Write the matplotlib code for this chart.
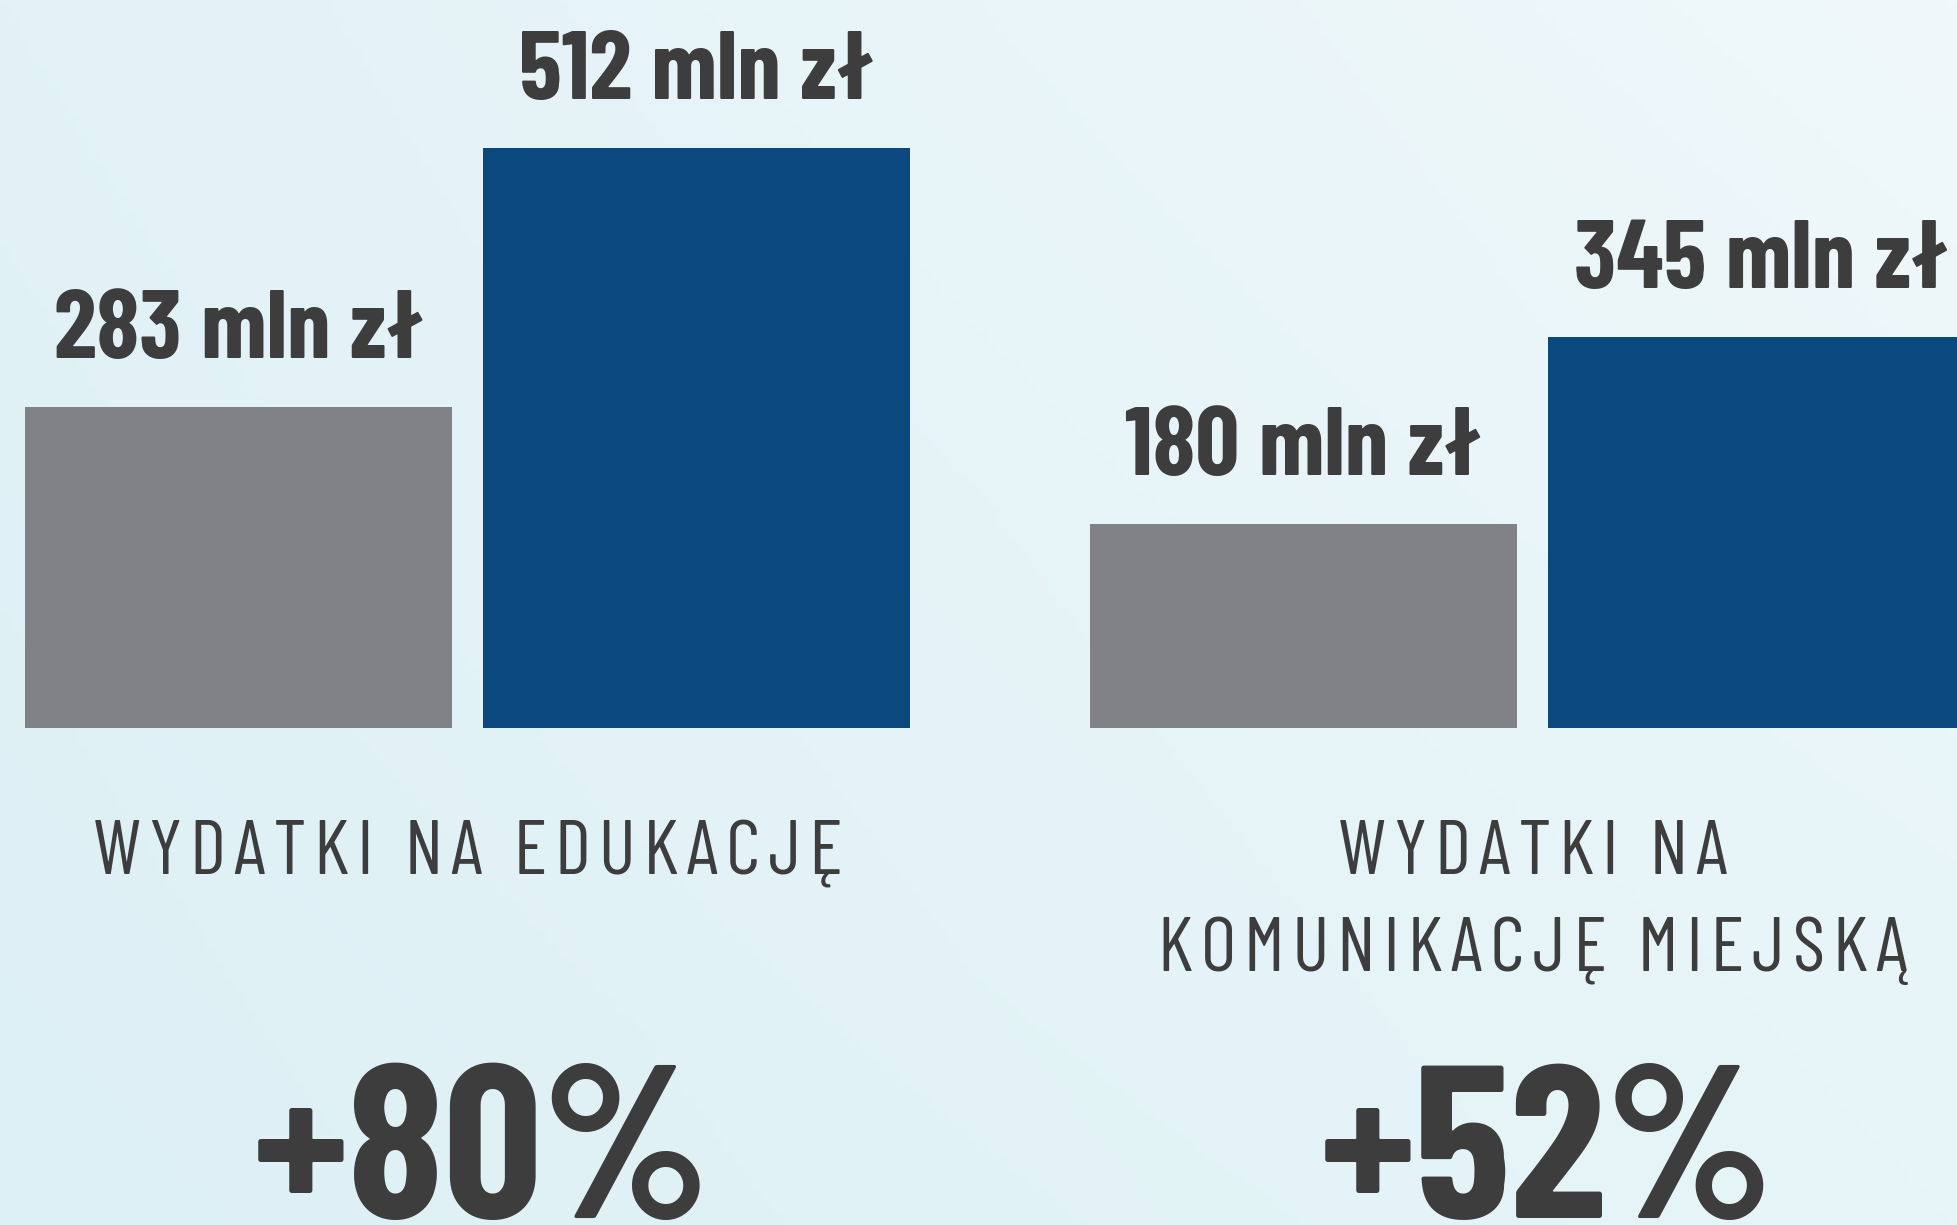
import matplotlib
matplotlib.use("Agg")
import matplotlib.pyplot as plt
import numpy as np
from matplotlib.colors import to_rgb

# --- data ---
categories = ["WYDATKI NA EDUKACJĘ", "WYDATKI NA\nKOMUNIKACJĘ MIEJSKĄ"]
before = [283, 180]      # mln zł (grey)
after = [512, 345]       # mln zł (blue)
changes = ["+80%", "+52%"]
unit = "mln zł"

# --- style ---
GREY = "#818286"
BLUE = "#0a487d"
TEXT = "#3d3d3d"
FONT = ["Barlow Condensed", "DejaVu Sans"]
HAIR = "\u200a"

W, H, DPI = 1957, 1225, 100
fig = plt.figure(figsize=(W / DPI, H / DPI), dpi=DPI)

# background gradient, darker bottom-left to lighter top-right
bg = fig.add_axes([0, 0, 1, 1], zorder=0)
gx, gy = np.meshgrid(np.linspace(0, 1, 200), np.linspace(0, 1, 200))
tl, tr = np.array(to_rgb("#e2f2f7")), np.array(to_rgb("#f0f8fb"))
bl, br = np.array(to_rgb("#ddf0f5")), np.array(to_rgb("#e6f5f8"))
img = ((1 - gx)[..., None] * ((1 - gy)[..., None] * bl + gy[..., None] * tl)
       + gx[..., None] * ((1 - gy)[..., None] * br + gy[..., None] * tr))
bg.imshow(img, origin="lower", extent=[0, 1, 0, 1], aspect="auto")
bg.axis("off")

# main axes: x in pixels, y in mln zł
ax = fig.add_axes([0, 0, 1, 1], zorder=1)
ax.patch.set_alpha(0)
px_per_unit = 1.132
base_from_top = 727.8
ax.set_xlim(0, W)
ax.set_ylim(-(H - base_from_top) / px_per_unit, base_from_top / px_per_unit)
ax.axis("off")

bar_w, gap, group_step, left = 427, 31, 1065, 25
centers = left + np.arange(len(categories)) * group_step + bar_w + gap / 2
x_grey = centers - (bar_w + gap) / 2
x_blue = centers + (bar_w + gap) / 2

ax.bar(x_grey, before, width=bar_w, color=GREY)
ax.bar(x_blue, after, width=bar_w, color=BLUE)

label_off = 49 * 72 / DPI  # points above bar top
for xs, vals in ((x_grey, before), (x_blue, after)):
    for x, v in zip(xs, vals):
        ax.annotate(f"{v} {unit}", (x, v), xytext=(0, label_off),
                    textcoords="offset points", ha="center", va="baseline",
                    fontsize=70, fontweight="bold", color=TEXT, family=FONT)

# category labels (letter-spaced) and change labels
for c, cat, ch in zip(centers, categories, changes):
    for i, line in enumerate(cat.split("\n")):
        y = 1 - (874 + i * 97) / H
        ax.text(c, y, HAIR.join(line), transform=ax.get_xaxis_transform(),
                ha="center", va="baseline", fontsize=56, fontweight="normal",
                color=TEXT, family=FONT)
    ax.text(c + 14, 7 / H, ch, transform=ax.get_xaxis_transform(),
            ha="center", va="baseline", fontsize=157, fontweight="bold",
            color=TEXT, family=FONT)

fig.savefig("out.png", dpi=DPI)
